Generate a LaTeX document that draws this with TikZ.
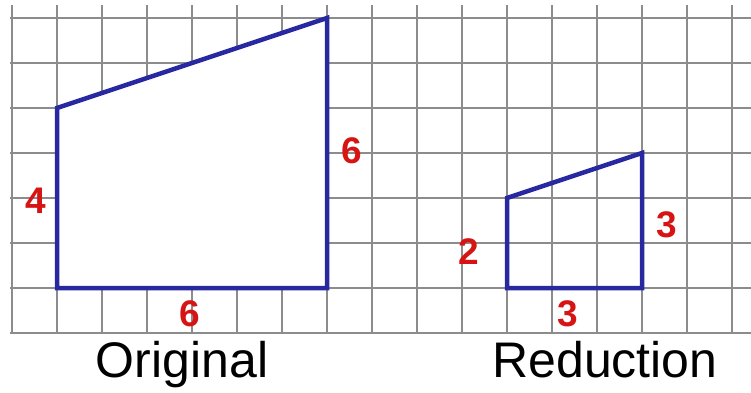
\documentclass[tikz,border=0pt]{standalone}
\usepackage{fontspec}
\setmainfont{Liberation Sans}
\definecolor{gridgray}{RGB}{140,140,140}
\definecolor{shapeblue}{RGB}{40,40,160}
\definecolor{numred}{RGB}{214,20,20}
\tikzset{
  gridline/.style={draw=gridgray, line width=1.6pt},
  shapeline/.style={draw=shapeblue, line width=4.5pt, line join=miter},
  numlabel/.style={text=numred, font=\fontsize{37}{37}\selectfont\bfseries, inner sep=0pt},
  caption/.style={text=black, font=\fontsize{50}{50}\selectfont, inner sep=0pt}
}
\begin{document}
\begin{tikzpicture}[x=1pt,y=-1pt]
\useasboundingbox (0,0) rectangle (751,392);
\fill[white] (0,0) rectangle (751,392);
% grid
\foreach \i in {0,...,16} {
  \draw[gridline] (12+45*\i,5) -- (12+45*\i,333);
}
\foreach \j in {0,...,7} {
  \draw[gridline] (10,18+45*\j) -- (751,18+45*\j);
}
% original
\coordinate (o1) at (57,288);
\coordinate (o2) at (327,288);
\coordinate (o3) at (327,18);
\coordinate (o4) at (57,108);
\filldraw[shapeline, fill=white] (o1) -- (o2) -- (o3) -- (o4) -- cycle;
% reduction
\coordinate (r1) at (507,288);
\coordinate (r2) at (642,288);
\coordinate (r3) at (642,153);
\coordinate (r4) at (507,198);
\draw[shapeline] (r1) -- (r2) -- (r3) -- (r4) -- cycle;
% labels
\node[numlabel] (l4) at (36,201) {4};
\node[numlabel] (l6r) at (352,151) {6};
\node[numlabel] (l6b) at (190,314) {6};
\node[numlabel] (l2) at (469,252) {2};
\node[numlabel] (l3r) at (667,225) {3};
\node[numlabel] (l3b) at (568,314) {3};
\node[caption, anchor=base] (orig) at (182,377) {Original};
\node[caption, anchor=base] (red) at (605,377) {Reduction};
\end{tikzpicture}
\end{document}
